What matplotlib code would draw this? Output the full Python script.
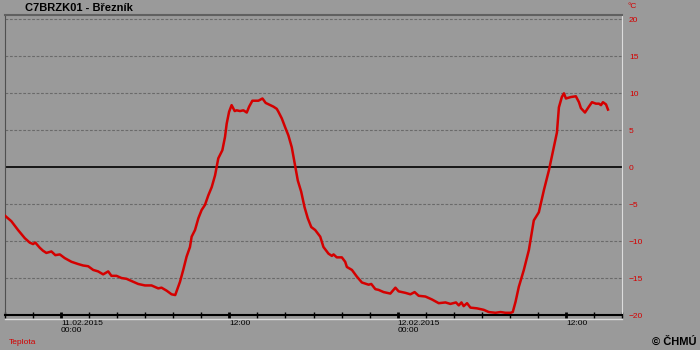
import matplotlib
matplotlib.use("Agg")
import matplotlib.pyplot as plt
from matplotlib.lines import Line2D
from matplotlib.ticker import MultipleLocator

plt.rcParams['font.family'] = ['Liberation Sans', 'DejaVu Sans']

# hours relative to 11.02.2015 00:00
hours = [-3.98, -3.55, -3.07, -2.59, -2.24, -2.0, -1.84, -1.52, -1.29, -1.05, -0.69, -0.41,
         -0.09, 0.26, 0.74, 1.21, 1.57, 1.93, 2.29, 2.64, 3.0, 3.36, 3.59, 3.95, 4.31, 4.66,
         5.02, 5.5, 5.98, 6.45, 6.93, 7.16, 7.52, 7.88, 8.14, 8.48, 8.71, 8.95, 9.19, 9.31,
         9.55, 9.79, 10.02, 10.26, 10.5, 10.74, 10.98, 11.21, 11.5, 11.69, 11.81, 11.98,
         12.16, 12.38, 12.52, 12.76, 13.0, 13.24, 13.41, 13.64, 14.07, 14.36, 14.59, 14.91,
         15.14, 15.38, 15.5, 15.74, 15.98, 16.21, 16.45, 16.69, 16.88, 17.12, 17.36, 17.59,
         17.84, 18.12, 18.48, 18.71, 19.07, 19.31, 19.43, 19.66, 20.02, 20.26, 20.38, 20.74,
         21.09, 21.45, 21.93, 22.12, 22.41, 22.64, 23.0, 23.48, 23.84, 24.07, 24.55, 24.91,
         25.21, 25.5, 25.98, 26.45, 26.93, 27.41, 27.76, 28.16, 28.36, 28.55, 28.71, 28.95,
         29.19, 29.66, 30.14, 30.5, 30.98, 31.34, 31.69, 32.05, 32.21, 32.41, 32.64, 33.0,
         33.36, 33.71, 34.07, 34.43, 34.79, 35.14, 35.36, 35.5, 35.71, 35.86, 36.0, 36.36,
         36.71, 36.93, 37.07, 37.36, 37.64, 37.86, 38.14, 38.36, 38.5, 38.64, 38.86, 39.0]
temp = [-6.6, -7.3, -8.5, -9.6, -10.2, -10.4, -10.2, -10.9, -11.3, -11.6, -11.4, -11.9,
        -11.8, -12.3, -12.8, -13.1, -13.3, -13.4, -13.9, -14.1, -14.5, -14.1, -14.7, -14.7,
        -15.0, -15.1, -15.4, -15.8, -16.0, -16.0, -16.4, -16.3, -16.7, -17.2, -17.3, -15.5,
        -13.9, -12.1, -10.8, -9.4, -8.5, -6.9, -5.8, -5.1, -3.8, -2.7, -1.1, 1.2, 2.3, 4.1,
        5.9, 7.5, 8.4, 7.6, 7.7, 7.6, 7.7, 7.4, 8.2, 9.0, 9.0, 9.3, 8.7, 8.4, 8.2, 7.9, 7.5,
        6.6, 5.4, 4.3, 2.7, 0.2, -1.8, -3.3, -5.4, -6.9, -8.1, -8.5, -9.4, -10.8, -11.7,
        -12.0, -11.8, -12.2, -12.2, -12.8, -13.5, -13.9, -14.8, -15.6, -15.9, -15.8, -16.5,
        -16.6, -16.9, -17.1, -16.3, -16.8, -17.0, -17.2, -16.9, -17.4, -17.5, -17.9, -18.4,
        -18.3, -18.5, -18.3, -18.7, -18.3, -18.8, -18.4, -19.0, -19.1, -19.3, -19.6, -19.7,
        -19.6, -19.7, -19.7, -19.6, -18.2, -16.2, -13.9, -11.2, -7.2, -6.1, -3.1, -0.4, 2.7,
        4.7, 8.1, 9.5, 10.0, 9.3, 9.5, 9.6, 8.8, 8.0, 7.4, 8.2, 8.8, 8.6, 8.6, 8.4, 8.8, 8.5,
        7.8]

yticks = [20, 15, 10, 5, 0, -5, -10, -15, -20]
xmajor = [0, 12, 24, 36]
xlabels = ["11.02.2015\n00:00", "12:00", "12.02.2015\n00:00", "12:00"]

bg = "#9a9a9a"
fig = plt.figure(figsize=(7, 3.5), dpi=100, facecolor=bg)
ax = fig.add_axes([5 / 700, 1 - 315 / 350, 617 / 700, 300 / 350], facecolor=bg)

for v in yticks:
    if v == 0:
        ax.axhline(0, color="black", lw=1.2, zorder=1)
    elif v != -20:
        ax.axhline(v, color="#6a6a6a", lw=0.8, ls=(0, (2.5, 1.5)), zorder=1)

ax.plot(hours, temp, color="#d40000", lw=1.8, zorder=3)

ax.set_xlim(-4, 40)
ax.set_ylim(-20, 20.6)

ax.set_yticks(yticks)
ax.yaxis.tick_right()
ax.tick_params(axis="y", length=0, pad=5, labelsize=6, labelcolor="#d40000")

ax.set_xticks(xmajor)
ax.set_xticklabels(xlabels, ha="left", fontsize=6, linespacing=1.1)
ax.xaxis.set_minor_locator(MultipleLocator(2))
ax.tick_params(axis="x", which="major", direction="inout", length=5, width=2, pad=1)
ax.tick_params(axis="x", which="minor", direction="inout", length=4, width=1)

ax.spines["left"].set_color("#505050")
ax.spines["top"].set_color("#606060")
ax.spines["top"].set_linewidth(1.5)
ax.spines["right"].set_color("#dcdcdc")
ax.spines["bottom"].set_color("black")
ax.spines["bottom"].set_linewidth(1.5)

fig.add_artist(Line2D([5 / 700, 622 / 700], [1 - 319 / 350] * 2, color="#dcdcdc", lw=1))

fig.text(25 / 700, 1 - 8 / 350, "C7BRZK01 - Březník", fontsize=8, fontweight="bold",
         va="center", ha="left")
fig.text(627 / 700, 1 - 7 / 350, "°C", fontsize=6, color="#d40000", va="center", ha="left")
fig.text(9 / 700, 1 - 343 / 350, "Teplota", fontsize=6, color="#d40000", va="center", ha="left")
fig.text(697 / 700, 1 - 342 / 350, "© ČHMÚ", fontsize=8, fontweight="bold",
         va="center", ha="right")

fig.savefig("out.png", dpi=100, facecolor=bg)
